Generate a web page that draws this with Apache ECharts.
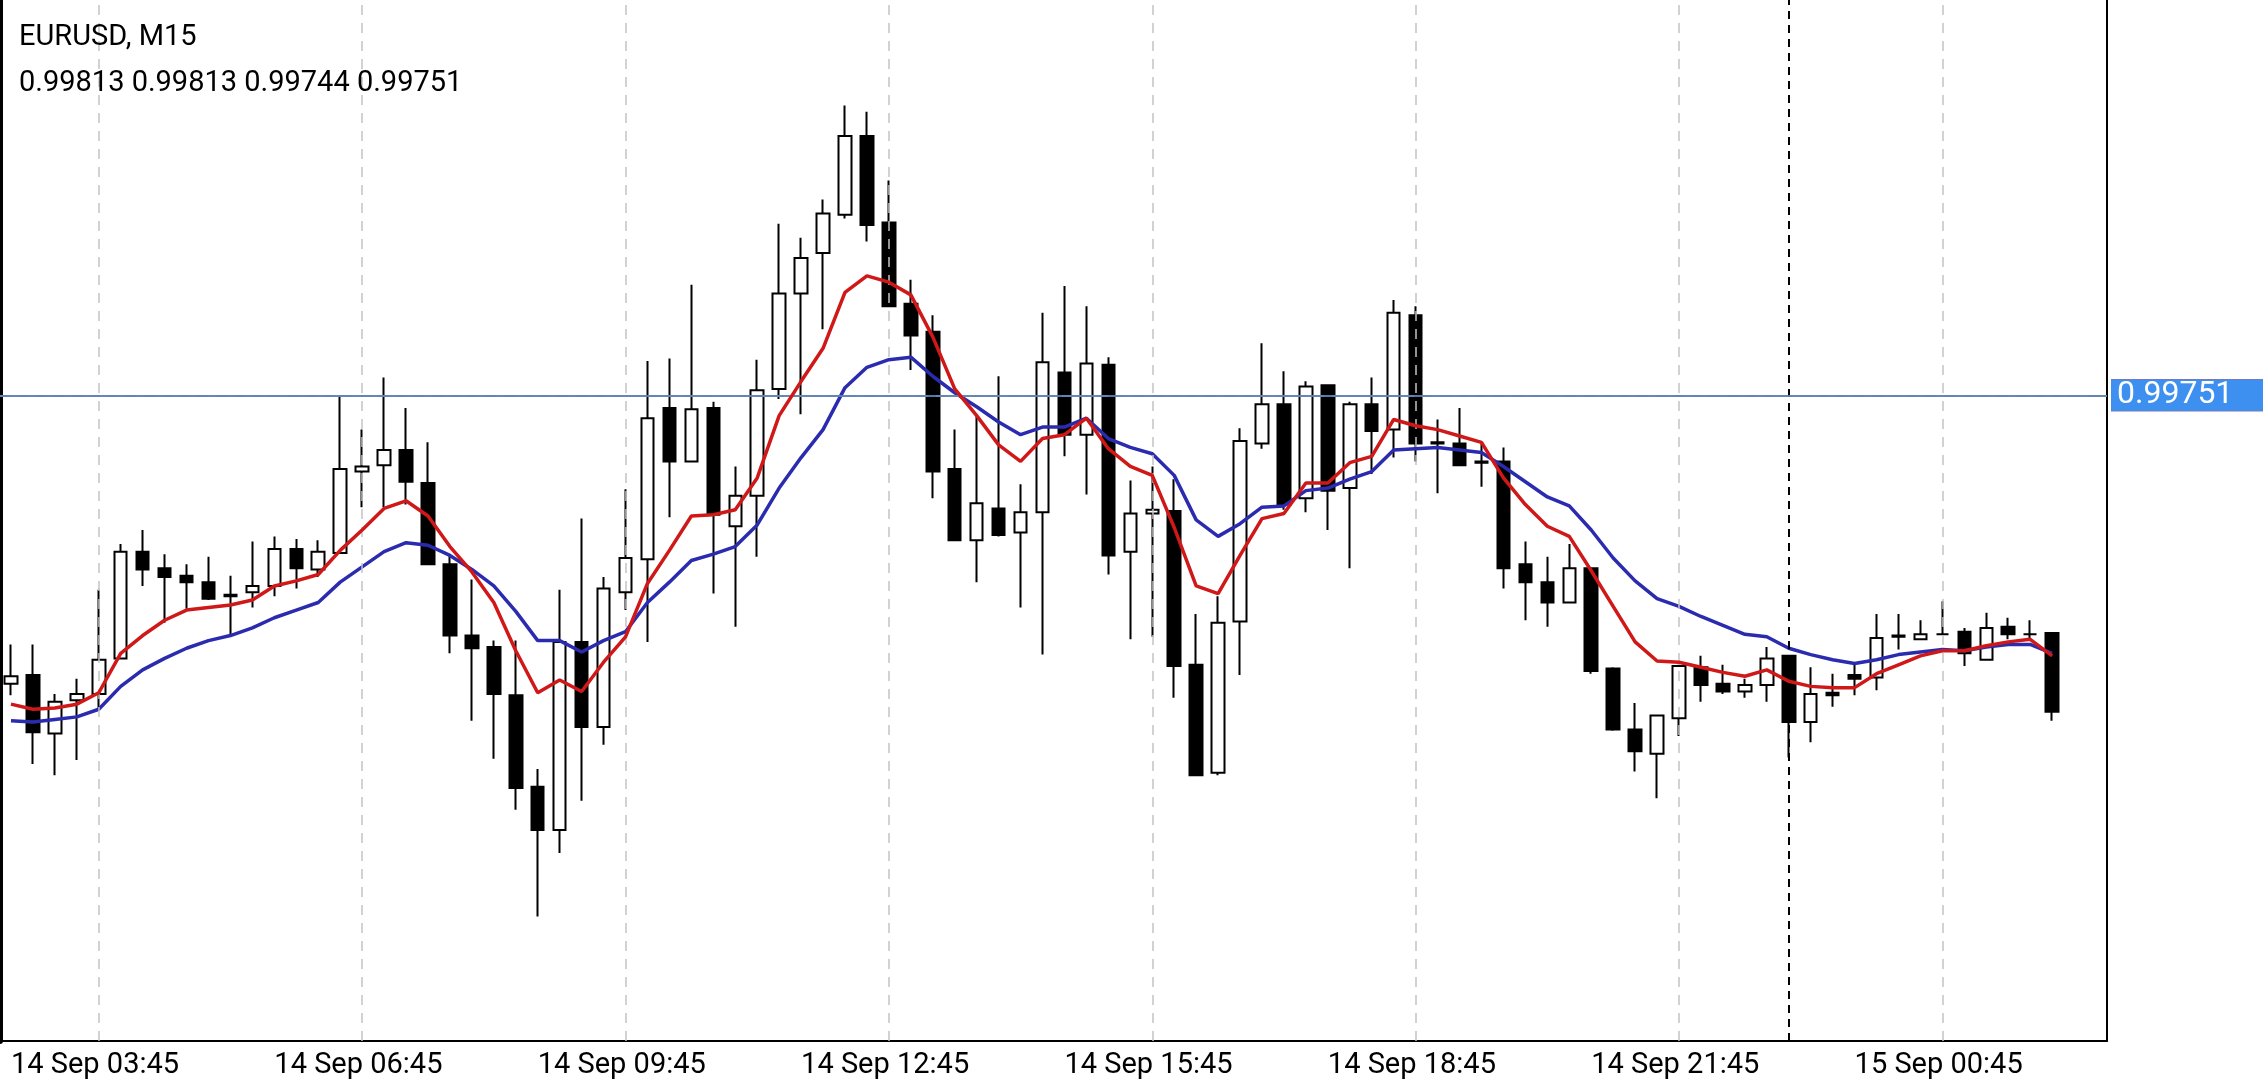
<!DOCTYPE html>
<html>
<head>
<meta charset="utf-8">
<script src="https://cdn.jsdelivr.net/npm/echarts@6/dist/echarts.min.js"></script>
<style>
  html, body { margin: 0; padding: 0; background: #fff; }
  #main { width: 2263px; height: 1080px; }
</style>
</head>
<body>
<div id="main"></div>
<script>
// 15-minute bars, 14 Sep 03:45 .. 15 Sep 03:00
var opens = [
  0.99773, 0.99780, 0.99734, 0.99760, 0.99765, 0.99793, 0.99877, 0.99864, 0.99858, 0.99853,
  0.99843, 0.99845, 0.99850, 0.99879, 0.99863, 0.99876, 0.99940, 0.99945, 0.99957, 0.99931,
  0.99867, 0.99811, 0.99802, 0.99764, 0.99692, 0.99658, 0.99806, 0.99739, 0.99845, 0.99871,
  0.99990, 0.99948, 0.99990, 0.99897, 0.99921, 1.00005, 1.00080, 1.00112, 1.00142, 1.00204,
  1.00136, 1.00072, 1.00050, 0.99942, 0.99886, 0.99911, 0.99892, 0.99908, 1.00018, 0.99969,
  1.00024, 0.99877, 0.99907, 0.99909, 0.99788, 0.99703, 0.99822, 0.99962, 0.99993, 0.99919,
  1.00008, 0.99927, 0.99993, 0.99973, 1.00063, 0.99963, 0.99962, 0.99948, 0.99948, 0.99867,
  0.99853, 0.99837, 0.99864, 0.99785, 0.99737, 0.99718, 0.99746, 0.99786, 0.99773, 0.99767,
  0.99772, 0.99795, 0.99743, 0.99766, 0.99780, 0.99778, 0.99810, 0.99808, 0.99812, 0.99814,
  0.99792, 0.99818, 0.99812, 0.99813
];
var highs = [
  0.99804, 0.99804, 0.99765, 0.99777, 0.99847, 0.99883, 0.99894, 0.99875, 0.99867, 0.99873,
  0.99858, 0.99885, 0.99889, 0.99887, 0.99886, 0.99999, 0.99973, 1.00014, 0.99990, 0.99963,
  0.99875, 0.99855, 0.99807, 0.99807, 0.99706, 0.99847, 0.99903, 0.99857, 0.99926, 1.00027,
  1.00029, 1.00087, 0.99995, 0.99944, 1.00028, 1.00135, 1.00124, 1.00154, 1.00228, 1.00223,
  1.00169, 1.00091, 1.00063, 0.99973, 0.99984, 1.00015, 0.99930, 1.00065, 1.00086, 1.00070,
  1.00030, 0.99933, 0.99944, 0.99934, 0.99828, 0.99842, 0.99974, 1.00041, 1.00019, 1.00011,
  1.00008, 0.99995, 1.00014, 1.00075, 1.00070, 0.99981, 0.99990, 0.99963, 0.99959, 0.99885,
  0.99873, 0.99883, 0.99864, 0.99786, 0.99758, 0.99748, 0.99788, 0.99795, 0.99788, 0.99777,
  0.99802, 0.99795, 0.99786, 0.99781, 0.99790, 0.99828, 0.99828, 0.99823, 0.99838, 0.99817,
  0.99829, 0.99825, 0.99823, 0.99813
];
var lows = [
  0.99764, 0.99710, 0.99701, 0.99713, 0.99753, 0.99793, 0.99850, 0.99821, 0.99832, 0.99839,
  0.99812, 0.99833, 0.99842, 0.99848, 0.99857, 0.99876, 0.99912, 0.99912, 0.99914, 0.99867,
  0.99797, 0.99744, 0.99714, 0.99674, 0.99590, 0.99640, 0.99681, 0.99725, 0.99831, 0.99806,
  0.99904, 0.99948, 0.99844, 0.99818, 0.99873, 0.99997, 0.99985, 1.00052, 1.00139, 1.00121,
  1.00070, 1.00020, 0.99919, 0.99886, 0.99853, 0.99889, 0.99833, 0.99796, 0.99952, 0.99922,
  0.99859, 0.99808, 0.99810, 0.99762, 0.99701, 0.99701, 0.99780, 0.99958, 0.99910, 0.99908,
  0.99894, 0.99864, 0.99938, 0.99951, 0.99948, 0.99923, 0.99945, 0.99928, 0.99848, 0.99823,
  0.99818, 0.99837, 0.99781, 0.99736, 0.99704, 0.99683, 0.99732, 0.99759, 0.99765, 0.99762,
  0.99759, 0.99715, 0.99727, 0.99755, 0.99764, 0.99768, 0.99800, 0.99808, 0.99812, 0.99787,
  0.99792, 0.99808, 0.99808, 0.99744
];
var closes = [
  0.99779, 0.99735, 0.99759, 0.99765, 0.99792, 0.99877, 0.99863, 0.99857, 0.99853, 0.99840,
  0.99842, 0.99850, 0.99879, 0.99864, 0.99877, 0.99942, 0.99944, 0.99957, 0.99932, 0.99867,
  0.99811, 0.99801, 0.99765, 0.99691, 0.99658, 0.99806, 0.99739, 0.99848, 0.99872, 0.99982,
  0.99948, 0.99989, 0.99906, 0.99921, 1.00004, 1.00080, 1.00108, 1.00143, 1.00204, 1.00134,
  1.00070, 1.00047, 0.99940, 0.99886, 0.99915, 0.99890, 0.99908, 1.00026, 0.99969, 1.00025,
  0.99874, 0.99907, 0.99910, 0.99787, 0.99701, 0.99821, 0.99964, 0.99993, 0.99914, 1.00007,
  0.99925, 0.99993, 0.99972, 1.00065, 0.99962, 0.99962, 0.99945, 0.99947, 0.99864, 0.99853,
  0.99837, 0.99864, 0.99783, 0.99737, 0.99720, 0.99748, 0.99787, 0.99772, 0.99767, 0.99772,
  0.99793, 0.99743, 0.99765, 0.99764, 0.99777, 0.99809, 0.99811, 0.99812, 0.99812, 0.99797,
  0.99817, 0.99812, 0.99812, 0.99751
];
var maFast = [
  0.99757, 0.99753, 0.99754, 0.99757, 0.99766, 0.99797, 0.99811, 0.99823, 0.99831, 0.99833,
  0.99835, 0.99839, 0.99850, 0.99854, 0.99859, 0.99878, 0.99894, 0.99911, 0.99917, 0.99905,
  0.99881, 0.99861, 0.99837, 0.99799, 0.99766, 0.99776, 0.99767, 0.99790, 0.99810, 0.99852,
  0.99878, 0.99905, 0.99906, 0.99910, 0.99935, 0.99984, 1.00011, 1.00037, 1.00081, 1.00094,
  1.00089, 1.00079, 1.00046, 1.00005, 0.99984, 0.99961, 0.99948, 0.99966, 0.99969, 0.99982,
  0.99958, 0.99944, 0.99937, 0.99896, 0.99850, 0.99844, 0.99874, 0.99903, 0.99907, 0.99931,
  0.99931, 0.99947, 0.99952, 0.99981, 0.99976, 0.99973, 0.99968, 0.99963, 0.99935, 0.99914,
  0.99897, 0.99889, 0.99862, 0.99834, 0.99806, 0.99791, 0.99790, 0.99786, 0.99782, 0.99779,
  0.99784, 0.99775, 0.99771, 0.99770, 0.99770, 0.99781, 0.99788, 0.99795, 0.99799, 0.99799,
  0.99803, 0.99806, 0.99808, 0.99795
];
var maSlow = [
  0.99744, 0.99743, 0.99745, 0.99747, 0.99753, 0.99771, 0.99784, 0.99793, 0.99801, 0.99807,
  0.99811, 0.99817, 0.99825, 0.99831, 0.99837, 0.99853, 0.99865, 0.99877, 0.99884, 0.99882,
  0.99874, 0.99863, 0.99850, 0.99830, 0.99807, 0.99807, 0.99798, 0.99807, 0.99814, 0.99837,
  0.99853, 0.99870, 0.99875, 0.99881, 0.99898, 0.99927, 0.99951, 0.99973, 1.00006, 1.00022,
  1.00028, 1.00030, 1.00015, 1.00002, 0.99991, 0.99979, 0.99969, 0.99975, 0.99975, 0.99982,
  0.99966, 0.99959, 0.99954, 0.99937, 0.99902, 0.99889, 0.99899, 0.99912, 0.99913, 0.99925,
  0.99927, 0.99934, 0.99940, 0.99957, 0.99958, 0.99959, 0.99957, 0.99955, 0.99944, 0.99932,
  0.99920, 0.99913, 0.99894, 0.99872, 0.99854, 0.99840, 0.99834, 0.99826, 0.99819, 0.99812,
  0.99810, 0.99801, 0.99796, 0.99792, 0.99789, 0.99792, 0.99796, 0.99798, 0.99800, 0.99799,
  0.99802, 0.99804, 0.99804, 0.99797
];
var yTicks = ['1.00270', '1.00200', '1.00130', '1.00060', '0.99990', '0.99920',
              '0.99850', '0.99780', '0.99710', '0.99640', '0.99570'];
var askPrice = 0.99768;
var bidPrice = 0.99751;
var startTime = Date.UTC(2022, 8, 14, 3, 45);
var months = ['Jan','Feb','Mar','Apr','May','Jun','Jul','Aug','Sep','Oct','Nov','Dec'];
var extraSlots = 2;

function pad(n) { return (n < 10 ? '0' : '') + n; }
var cats = [];
for (var i = 0; i < opens.length + extraSlots; i++) {
  var d = new Date(startTime + i * 15 * 60000);
  cats.push(d.getUTCDate() + ' ' + months[d.getUTCMonth()] + ' ' + pad(d.getUTCHours()) + ':' + pad(d.getUTCMinutes()));
}
var candles = opens.map(function (o, i) { return [o, closes[i], lows[i], highs[i]]; });

var gridLines = yTicks.map(function (t) { return { yAxis: parseFloat(t), label: { formatter: t } }; });
var vLines = [];
for (var k = 4; k < cats.length; k += 12) vLines.push({ xAxis: cats[k] });

var chartDom = document.getElementById('main');
var myChart = echarts.init(chartDom);
var option = {
  animation: false,
  backgroundColor: '#fff',
  textStyle: { fontFamily: 'Roboto' },
  title: [
    { text: 'EURUSD, M15', left: 14, top: 18, textStyle: { fontSize: 29, fontWeight: 'normal', color: '#000', fontFamily: 'Roboto' } },
    { text: '0.99813 0.99813 0.99744 0.99751', left: 14, top: 64, textStyle: { fontSize: 29, fontWeight: 'normal', color: '#000', fontFamily: 'Roboto' } }
  ],
  grid: { left: 0, right: 156, top: 0, bottom: 37 },
  xAxis: {
    type: 'category',
    data: cats,
    boundaryGap: true,
    axisLine: { lineStyle: { color: '#000', width: 2 } },
    axisTick: { show: false },
    splitLine: { show: false },
    axisLabel: {
      interval: function (idx) { return idx % 12 === 0; },
      align: 'left',
      margin: 10,
      fontSize: 29,
      color: '#000',
      fontFamily: 'Roboto'
    }
  },
  yAxis: [
    {
      type: 'value',
      position: 'right',
      min: 0.99492,
      max: 1.00311,
      axisLine: { show: true, lineStyle: { color: '#000', width: 2 } },
      axisTick: { show: false },
      axisLabel: { show: false },
      splitLine: { show: false }
    },
    {
      type: 'value',
      position: 'left',
      min: 0.99492,
      max: 1.00311,
      axisLine: { show: true, lineStyle: { color: '#000', width: 6 } },
      axisTick: { show: false },
      axisLabel: { show: false },
      splitLine: { show: false }
    }
  ],
  series: [
    {
      // invisible carrier for the grid lines
      type: 'line',
      data: closes,
      symbol: 'none',
      silent: true,
      lineStyle: { opacity: 0 },
      markLine: {
        symbol: 'none',
        silent: true,
        lineStyle: { color: '#c4c4c4', type: [10, 8], width: 1.5 },
        label: { position: 'end', distance: 6, fontSize: 32, color: '#000', fontFamily: 'Roboto' },
        data: gridLines
      },
      z: 1
    },
    {
      type: 'line',
      data: closes,
      symbol: 'none',
      silent: true,
      lineStyle: { opacity: 0 },
      markLine: {
        symbol: 'none',
        silent: true,
        label: { show: false },
        lineStyle: { color: '#c4c4c4', type: [10, 8], width: 1.5 },
        data: vLines.concat([{ xAxis: cats[81], lineStyle: { color: '#000', type: [8, 6], width: 2 } }])
      },
      z: 1
    },
    {
      type: 'candlestick',
      data: candles,
      barWidth: 13,
      itemStyle: { color: '#fff', color0: '#000', borderColor: '#000', borderColor0: '#000', borderWidth: 2 },
      z: 3
    },
    {
      type: 'line',
      data: maSlow,
      symbol: 'none',
      lineStyle: { color: '#2b2bb0', width: 3.5 },
      z: 4
    },
    {
      type: 'line',
      data: maFast,
      symbol: 'none',
      lineStyle: { color: '#d01818', width: 3.5 },
      z: 5
    },
    {
      type: 'line',
      data: closes,
      symbol: 'none',
      silent: true,
      lineStyle: { opacity: 0 },
      z: 10,
      markLine: {
        symbol: 'none',
        silent: true,
        data: [
          {
            yAxis: askPrice,
            lineStyle: { color: '#e02020', type: 'solid', width: 1.5 },
            label: { formatter: askPrice.toFixed(5), position: 'end', distance: 4, fontSize: 32, color: '#fff',
                     backgroundColor: '#ff0000', padding: [0, 30, 0, 6], lineHeight: 32, fontFamily: 'Roboto' }
          },
          {
            yAxis: bidPrice,
            lineStyle: { color: '#3a9ad6', type: 'solid', width: 1.5 },
            label: { formatter: bidPrice.toFixed(5), position: 'end', distance: 4, fontSize: 32, color: '#fff',
                     backgroundColor: '#3d8ff0', padding: [0, 30, 0, 6], lineHeight: 32, fontFamily: 'Roboto' }
          }
        ]
      }
    }
  ]
};

option && myChart.setOption(option);
</script>
</body>
</html>
